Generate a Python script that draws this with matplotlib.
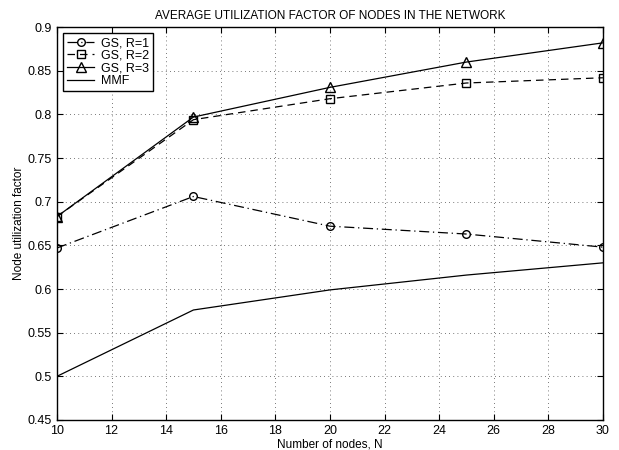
import matplotlib.pyplot as plt

plt.rcParams['font.family'] = ['Liberation Sans', 'DejaVu Sans']

nodes = [10, 15, 20, 25, 30]
gs_r1 = [0.647, 0.706, 0.672, 0.663, 0.648]
gs_r2 = [0.683, 0.794, 0.818, 0.836, 0.842]
gs_r3 = [0.683, 0.797, 0.831, 0.860, 0.882]
mmf = [0.500, 0.576, 0.599, 0.616, 0.630]

fig = plt.figure(figsize=(6.19, 4.5), dpi=100)
ax = fig.add_axes([0.092, 0.0667, 0.882, 0.873])

ax.plot(nodes, gs_r1, 'k-.', marker='o', mfc='none', ms=5.5, lw=0.9,
        dashes=(8, 3, 1, 3), label='GS, R=1')
ax.plot(nodes, gs_r2, 'k--', marker='s', mfc='none', ms=5.5, lw=0.9,
        dashes=(6, 4), label='GS, R=2')
ax.plot(nodes, gs_r3, 'k-', marker='^', mfc='none', ms=6.5, lw=0.9, label='GS, R=3')
ax.plot(nodes, mmf, 'k-', lw=0.9, label='MMF')

ax.set_xlim(10, 30)
ax.set_ylim(0.45, 0.9)
ax.set_xticks(range(10, 31, 2))
ax.set_yticks([0.45, 0.5, 0.55, 0.6, 0.65, 0.7, 0.75, 0.8, 0.85, 0.9])
ax.set_yticklabels(['0.45', '0.5', '0.55', '0.6', '0.65', '0.7', '0.75', '0.8', '0.85', '0.9'])
ax.grid(True, linestyle=(0, (1, 4)), color='k', lw=0.6, alpha=0.7)
ax.tick_params(direction='in', top=True, right=True, labelsize=9, length=4)
for s in ax.spines.values():
    s.set_linewidth(1.0)

ax.set_title('AVERAGE UTILIZATION FACTOR OF NODES IN THE NETWORK', fontsize=8.5)
ax.set_xlabel('Number of nodes, N', fontsize=8.5, labelpad=1)
ax.set_ylabel('Node utilization factor', fontsize=8.5, labelpad=2)

leg = ax.legend(loc='upper left', fontsize=9, fancybox=False, edgecolor='k',
                framealpha=1, handlelength=2.2, borderaxespad=0.5,
                labelspacing=0.05, borderpad=0.3, handletextpad=0.5)
leg.get_frame().set_linewidth(1.0)

plt.savefig('out.png', dpi=100)
